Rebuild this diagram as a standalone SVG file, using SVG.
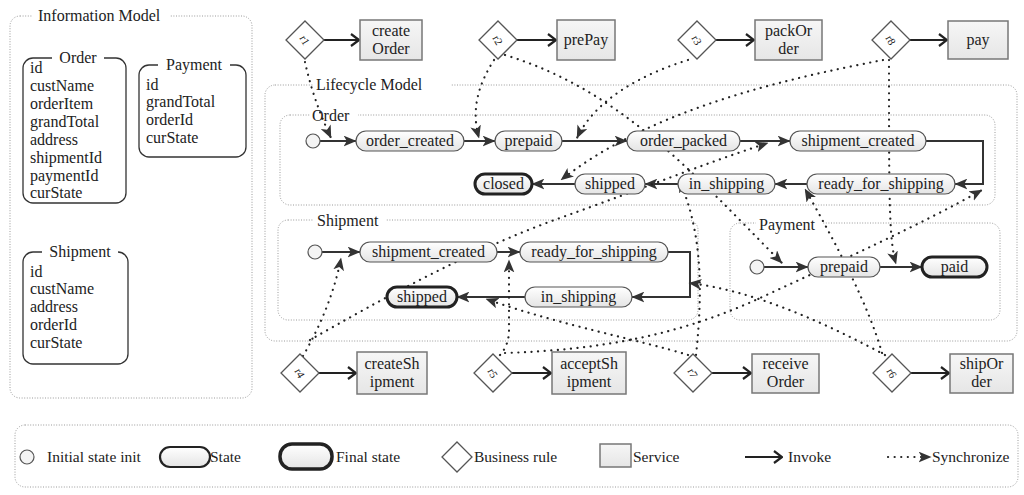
<svg xmlns="http://www.w3.org/2000/svg" width="1024" height="495" viewBox="0 0 1024 495">
<style>
text{font-family:"Liberation Serif","DejaVu Serif",serif;fill:#222;}
.t16{font-size:16px;}
.t15{font-size:15.5px;}
.mid{text-anchor:middle;}
.cont{fill:none;stroke:#9a9a9a;stroke-width:1;stroke-dasharray:1 1.6;}
.info{fill:#fff;stroke:#333;stroke-width:1.3;}
.state{fill:url(#sg);stroke:#555;stroke-width:1.2;}
.final{fill:url(#sg);stroke:#222;stroke-width:3;}
.init{fill:#f4f4f4;stroke:#555;stroke-width:1.2;}
.svc{fill:url(#bg);stroke:#777;stroke-width:1.5;}
.rule{fill:#fff;stroke:#555;stroke-width:1.3;}
.rl{font-size:11px;text-anchor:middle;}
.tr{fill:none;stroke:#333;stroke-width:2;marker-end:url(#tri);}
.inv{fill:none;stroke:#222;stroke-width:2.2;marker-end:url(#open);}
.sy{fill:none;stroke:#222;stroke-width:2.2;stroke-dasharray:0.1 6.5;stroke-linecap:round;marker-end:url(#sarr);}
.bgw{fill:#fff;}
</style>
<defs>
<linearGradient id="sg" x1="0" y1="0" x2="0" y2="1"><stop offset="0" stop-color="#ffffff"/><stop offset="1" stop-color="#e4e4e4"/></linearGradient>
<linearGradient id="bg" x1="0" y1="0" x2="0" y2="1"><stop offset="0" stop-color="#f6f6f6"/><stop offset="1" stop-color="#e6e6e6"/></linearGradient>
<marker id="tri" viewBox="0 0 12 10" refX="11.5" refY="5" markerWidth="13" markerHeight="11" markerUnits="userSpaceOnUse" orient="auto"><path d="M0,0 L12,5 L0,10 L3,5 z" fill="#333"/></marker>
<marker id="sarr" viewBox="0 0 12 10" refX="11.5" refY="5" markerWidth="13" markerHeight="11" markerUnits="userSpaceOnUse" orient="auto"><path d="M0,0 L12,5 L0,10 L3,5 z" fill="#333"/></marker>
<marker id="open" viewBox="0 0 10 14" refX="9" refY="7" markerWidth="10" markerHeight="14" markerUnits="userSpaceOnUse" orient="auto"><path d="M1,1 L9,7 L1,13" fill="none" stroke="#222" stroke-width="2.2"/></marker>
</defs>
<rect width="1024" height="495" fill="#fff"/>

<!-- Information model -->
<g id="information-model">
<rect class="cont" x="10" y="16" width="242" height="382" rx="10"/>
<rect class="bgw" x="32" y="8" width="138" height="16"/>
<text class="t16" x="38" y="21">Information Model</text>
</g>
<g id="info-order">
<rect class="info" x="23" y="58" width="103" height="145" rx="10"/>
<rect class="bgw" x="52" y="50" width="52" height="14"/>
<text class="t16 mid" x="78" y="63">Order</text>
<text class="t16" x="30" y="73">id</text>
<text class="t16" x="30" y="91">custName</text>
<text class="t16" x="30" y="109">orderItem</text>
<text class="t16" x="30" y="127">grandTotal</text>
<text class="t16" x="30" y="145">address</text>
<text class="t16" x="30" y="163">shipmentId</text>
<text class="t16" x="30" y="181">paymentId</text>
<text class="t16" x="30" y="198">curState</text>
</g>
<g id="info-payment">
<rect class="info" x="139" y="65" width="107" height="92" rx="10"/>
<rect class="bgw" x="158" y="57" width="72" height="14"/>
<text class="t16 mid" x="194" y="70">Payment</text>
<text class="t16" x="146" y="90">id</text>
<text class="t16" x="146" y="107">grandTotal</text>
<text class="t16" x="146" y="125">orderId</text>
<text class="t16" x="146" y="143">curState</text>
</g>
<g id="info-shipment">
<rect class="info" x="23" y="252" width="105" height="112" rx="10"/>
<rect class="bgw" x="42" y="244" width="76" height="14"/>
<text class="t16 mid" x="80" y="257">Shipment</text>
<text class="t16" x="30" y="277">id</text>
<text class="t16" x="30" y="294">custName</text>
<text class="t16" x="30" y="312">address</text>
<text class="t16" x="30" y="330">orderId</text>
<text class="t16" x="30" y="348">curState</text>
</g>

<!-- Lifecycle containers -->
<g id="lifecycle-model">
<rect class="cont" x="265" y="85" width="752" height="256" rx="10"/>
<rect class="bgw" x="313" y="76" width="138" height="16"/>
<text class="t16" x="316" y="90">Lifecycle Model</text>
</g>
<g id="order-lifecycle">
<rect class="cont" x="280" y="115" width="715" height="90" rx="10"/>
<rect class="bgw" x="310" y="108" width="48" height="14"/>
<text class="t16" x="312" y="121">Order</text>
</g>
<g id="shipment-lifecycle">
<rect class="cont" x="278" y="220" width="420" height="100" rx="10"/>
<rect class="bgw" x="314" y="212" width="72" height="14"/>
<text class="t16" x="317" y="226">Shipment</text>
</g>
<g id="payment-lifecycle">
<rect class="cont" x="730" y="223" width="270" height="97" rx="10"/>
<rect class="bgw" x="756" y="215" width="66" height="14"/>
<text class="t16" x="759" y="230">Payment</text>
</g>

<!-- Connectors -->
<g id="connectors">
<!-- invoke -->
<path class="inv" d="M324,40 H359"/>
<path class="inv" d="M517,40 H556"/>
<path class="inv" d="M716,40 H754"/>
<path class="inv" d="M910,40 H947"/>
<path class="inv" d="M319,373 H356"/>
<path class="inv" d="M512,373 H551"/>
<path class="inv" d="M712,373 H751"/>
<path class="inv" d="M911,373 H949"/>
<!-- order transitions -->
<path class="tr" d="M320,141 H356"/>
<path class="tr" d="M464,141 H495"/>
<path class="tr" d="M562,141 H627"/>
<path class="tr" d="M740,141 H790"/>
<path class="tr" d="M926,141 H983 V184 H955"/>
<path class="tr" d="M807,184 H775"/>
<path class="tr" d="M678,184 H645"/>
<path class="tr" d="M575,184 H532"/>
<!-- shipment transitions -->
<path class="tr" d="M322,252 H360"/>
<path class="tr" d="M497,252 H520"/>
<path class="tr" d="M668,252 H690 V297 H632"/>
<path class="tr" d="M525,297 H457"/>
<!-- payment transitions -->
<path class="tr" d="M764,267 H808"/>
<path class="tr" d="M880,267 H922"/>
<!-- synchronize -->
<path class="sy" d="M305,62 C310,85 318,110 331,138"/>
<path class="sy" d="M494,60 C478,85 471,110 479,138"/>
<path class="sy" d="M505,55 C620,90 690,170 782,263"/>
<path class="sy" d="M688,60 C640,75 595,100 577,138"/>
<path class="sy" d="M889,60 C889,200 889,240 896,264"/>
<path class="sy" d="M883,60 C780,80 650,110 561,180"/>
<path class="sy" d="M303,356 C315,335 333,300 341,258"/>
<path class="sy" d="M310,340 C380,300 470,250 560,218 S700,165 768,143"/>
<path class="sy" d="M505,353 C600,350 680,335 760,298 S920,225 982,190"/>
<path class="sy" d="M500,355 Q509,345 509,330 L509,260"/>
<path class="sy" d="M688,355 C640,340 560,325 486,299"/>
<path class="sy" d="M696,355 C703,290 702,230 679,180"/>
<path class="sy" d="M885,355 C820,320 750,290 689,283"/>
<path class="sy" d="M882,353 C870,310 840,250 805,189"/>
</g>

<!-- Order states -->
<g id="o-init"><circle class="init" cx="313" cy="141" r="7"/></g>
<g id="o-order_created"><rect class="state" x="356" y="131" width="108" height="20" rx="10"/><text class="t16 mid" x="410" y="146">order_created</text></g>
<g id="o-prepaid"><rect class="state" x="495" y="131" width="67" height="20" rx="10"/><text class="t16 mid" x="528.5" y="146">prepaid</text></g>
<g id="o-order_packed"><rect class="state" x="627" y="131" width="113" height="20" rx="10"/><text class="t16 mid" x="683.5" y="146">order_packed</text></g>
<g id="o-shipment_created"><rect class="state" x="790" y="131" width="136" height="20" rx="10"/><text class="t16 mid" x="858" y="146">shipment_created</text></g>
<g id="o-ready_for_shipping"><rect class="state" x="807" y="174" width="148" height="20" rx="10"/><text class="t16 mid" x="881" y="189">ready_for_shipping</text></g>
<g id="o-in_shipping"><rect class="state" x="678" y="174" width="97" height="20" rx="10"/><text class="t16 mid" x="726.5" y="189">in_shipping</text></g>
<g id="o-shipped"><rect class="state" x="575" y="174" width="70" height="20" rx="10"/><text class="t16 mid" x="610" y="189">shipped</text></g>
<g id="o-closed"><rect class="final" x="475" y="174" width="57" height="20" rx="10"/><text class="t16 mid" x="503.5" y="189">closed</text></g>

<!-- Shipment states -->
<g id="s-init"><circle class="init" cx="315" cy="252" r="7"/></g>
<g id="s-shipment_created"><rect class="state" x="360" y="242" width="137" height="20" rx="10"/><text class="t16 mid" x="428.5" y="257">shipment_created</text></g>
<g id="s-ready_for_shipping"><rect class="state" x="520" y="242" width="148" height="20" rx="10"/><text class="t16 mid" x="594" y="257">ready_for_shipping</text></g>
<g id="s-in_shipping"><rect class="state" x="525" y="287" width="107" height="20" rx="10"/><text class="t16 mid" x="578.5" y="302">in_shipping</text></g>
<g id="s-shipped"><rect class="final" x="387" y="287" width="70" height="20" rx="10"/><text class="t16 mid" x="422" y="302">shipped</text></g>

<!-- Payment states -->
<g id="p-init"><circle class="init" cx="757" cy="267" r="7"/></g>
<g id="p-prepaid"><rect class="state" x="808" y="257" width="72" height="20" rx="10"/><text class="t16 mid" x="844" y="272">prepaid</text></g>
<g id="p-paid"><rect class="final" x="922" y="257" width="65" height="20" rx="10"/><text class="t16 mid" x="954.5" y="272">paid</text></g>

<!-- Rules and services -->
<g id="r1"><path class="rule" d="M305,21 L324,40 L305,59 L286,40 z"/><text class="rl" transform="translate(305,40) rotate(60)" y="4">r1</text></g>
<g id="createOrder"><rect class="svc" x="360" y="20" width="62" height="40"/><text class="t16 mid" x="391" y="36">create</text><text class="t16 mid" x="391" y="54">Order</text></g>
<g id="r2"><path class="rule" d="M498,21 L517,40 L498,59 L479,40 z"/><text class="rl" transform="translate(498,40) rotate(60)" y="4">r2</text></g>
<g id="prePay"><rect class="svc" x="557" y="20" width="58" height="40"/><text class="t16 mid" x="586" y="45">prePay</text></g>
<g id="r3"><path class="rule" d="M697,21 L716,40 L697,59 L678,40 z"/><text class="rl" transform="translate(697,40) rotate(60)" y="4">r3</text></g>
<g id="packOrder"><rect class="svc" x="755" y="20" width="67" height="40"/><text class="t16 mid" x="788.5" y="36">packOr</text><text class="t16 mid" x="788.5" y="54">der</text></g>
<g id="r8"><path class="rule" d="M891,21 L910,40 L891,59 L872,40 z"/><text class="rl" transform="translate(891,40) rotate(60)" y="4">r8</text></g>
<g id="pay"><rect class="svc" x="948" y="21" width="60" height="38"/><text class="t16 mid" x="978" y="45">pay</text></g>

<g id="r4"><path class="rule" d="M300,354 L319,373 L300,392 L281,373 z"/><text class="rl" transform="translate(300,373) rotate(60)" y="4">r4</text></g>
<g id="createShipment"><rect class="svc" x="357" y="352" width="70" height="42"/><text class="t16 mid" x="392" y="369">createSh</text><text class="t16 mid" x="392" y="387">ipment</text></g>
<g id="r5"><path class="rule" d="M493,354 L512,373 L493,392 L474,373 z"/><text class="rl" transform="translate(493,373) rotate(60)" y="4">r5</text></g>
<g id="acceptShipment"><rect class="svc" x="552" y="352" width="74" height="42"/><text class="t16 mid" x="589" y="369">acceptSh</text><text class="t16 mid" x="589" y="387">ipment</text></g>
<g id="r7"><path class="rule" d="M693,354 L712,373 L693,392 L674,373 z"/><text class="rl" transform="translate(693,373) rotate(60)" y="4">r7</text></g>
<g id="receiveOrder"><rect class="svc" x="752" y="354" width="67" height="39"/><text class="t16 mid" x="785.5" y="369">receive</text><text class="t16 mid" x="785.5" y="387">Order</text></g>
<g id="r6"><path class="rule" d="M892,354 L911,373 L892,392 L873,373 z"/><text class="rl" transform="translate(892,373) rotate(60)" y="4">r6</text></g>
<g id="shipOrder"><rect class="svc" x="950" y="354" width="63" height="39"/><text class="t16 mid" x="981.5" y="369">shipOr</text><text class="t16 mid" x="981.5" y="387">der</text></g>

<!-- Legend -->
<g id="legend">
<rect class="cont" x="15" y="425" width="1003" height="62" rx="10"/>
<circle class="init" cx="27" cy="457" r="7"/>
<text class="t15" x="47" y="462">Initial state init</text>
<rect x="160" y="447" width="50" height="20" rx="10" fill="url(#sg)" stroke="#222" stroke-width="2.2"/>
<text class="t15" x="210" y="462">State</text>
<rect x="280" y="444" width="52" height="25" rx="12" fill="url(#sg)" stroke="#222" stroke-width="3.5"/>
<text class="t15" x="336" y="462">Final state</text>
<path class="rule" d="M457,442 L472,457 L457,472 L442,457 z"/>
<text class="t15" x="474" y="462">Business rule</text>
<rect class="svc" x="600" y="444" width="31" height="23"/>
<text class="t15" x="633" y="462">Service</text>
<path class="inv" d="M745,457 H782"/>
<text class="t15" x="788" y="462">Invoke</text>
<path class="sy" d="M888,457 H931"/>
<text class="t15" x="932" y="462">Synchronize</text>
</g>
</svg>
